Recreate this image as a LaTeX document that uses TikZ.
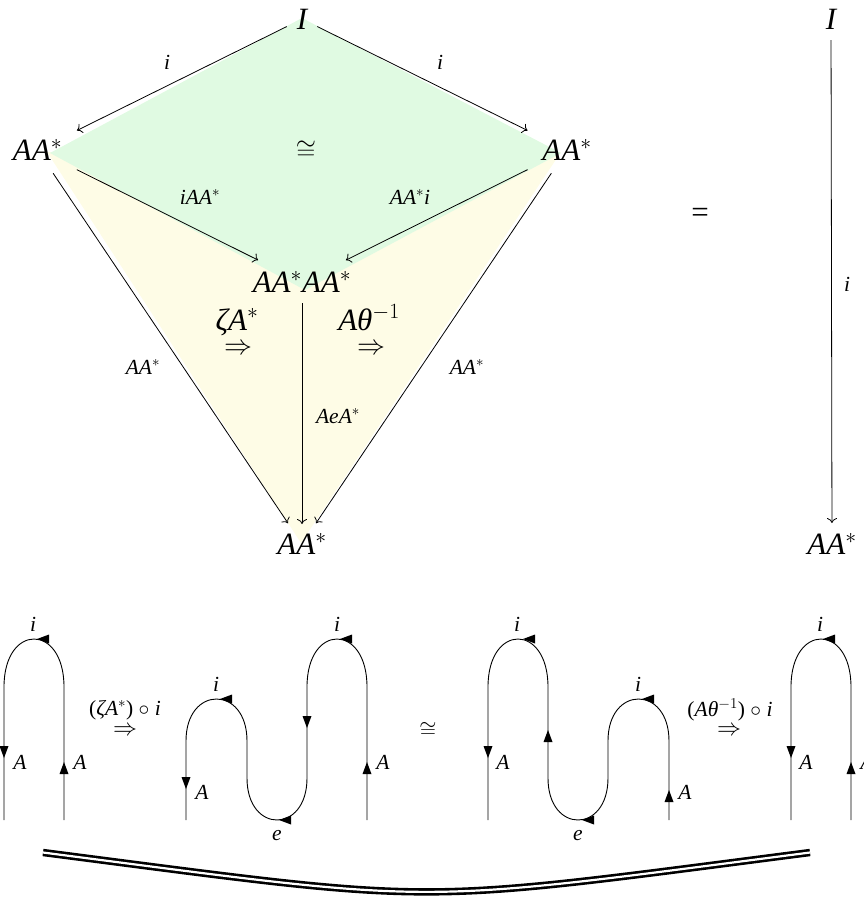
\RequirePackage{fix-cm}
\documentclass[tikz,border=0pt]{standalone}
\usepackage{fontspec}
\setmainfont{Liberation Serif}
\newfontfamily\tm{Liberation Serif}
\usetikzlibrary{arrows.meta}
\definecolor{gfill}{RGB}{224,250,226}
\definecolor{yfill}{RGB}{254,252,230}
\tikzset{
  big/.style={font=\fontsize{31}{36}\selectfont\tm\itshape, inner sep=0pt},
  lab/.style={font=\fontsize{21.5}{25}\selectfont\tm\itshape, inner sep=0pt},
  symb/.style={font=\fontsize{26}{30}\selectfont, inner sep=0pt},
  dbl/.style={font=\fontsize{28}{32}\selectfont, inner sep=0pt},
  dbls/.style={font=\fontsize{24}{28}\selectfont, inner sep=0pt},
  cd/.style={line width=0.8pt, -{Computer Modern Rightarrow[length=5pt,width=10pt]}},
  strand/.style={line width=0.9pt},
  eqs/.style={double, double distance=2.2pt, line width=2.6pt},
}
\newcommand\arrD[2]{\fill (#1,#2) -- ++(-4.5,-12) -- ++(9,0) -- cycle;}
\newcommand\arrU[2]{\fill (#1,#2) -- ++(-4.5,12) -- ++(9,0) -- cycle;}
\newcommand\arrL[2]{\fill (#1,#2) -- ++(12,-4.5) -- ++(0,9) -- cycle;}
\begin{document}
\begin{tikzpicture}[x=1pt,y=-1pt]
\useasboundingbox (0,0) rectangle (864,898);
% fills
\fill[yfill] (47,152) -- (301,543) -- (561,152) -- cycle;
\fill[gfill] (302,18) -- (50,153) -- (305,290) -- (561,153) -- cycle;
% objects
\node[big] (I) at (302,19) {I};
\node[big] (L) at (37.5,150) {AA$^*$};
\node[big] (R) at (567,150) {AA$^*$};
\node[big] (M) at (302,282) {AA$^*$AA$^*$};
\node[big] (B) at (302,544) {AA$^*$};
\node[big] (I2) at (831,19) {I};
\node[big] (B2) at (832,544) {AA$^*$};
% morphisms
\draw[cd, shorten <=17pt, shorten >=44pt] (I.center) -- (L.center);
\draw[cd, shorten <=17pt, shorten >=44pt] (I.center) -- (R.center);
\draw[cd, shorten <=44pt, shorten >=49pt] (L.center) -- (M.center);
\draw[cd, shorten <=44pt, shorten >=49pt] (R.center) -- (M.center);
\draw[cd, shorten <=28pt, shorten >=25pt] (L.center) -- (B.center);
\draw[cd, shorten <=28pt, shorten >=25pt] (R.center) -- (B.center);
\draw[cd, shorten <=21pt, shorten >=20pt] (M.center) -- (B.center);
\draw[cd, shorten <=21pt, shorten >=21pt] (I2.center) -- (B2.center);
% edge labels
\node[lab] (li1) at (167,62) {i};
\node[lab] (li2) at (440,62) {i};
\node[lab] (liA) at (200,197) {iAA$^*$};
\node[lab] (lAi) at (410,197) {AA$^*$i};
\node[lab] (lL) at (143,367) {AA$^*$};
\node[lab] (lR) at (467,367) {AA$^*$};
\node[lab] (lAe) at (338,416) {AeA$^*$};
\node[lab] (li3) at (847,284) {i};
\node[symb] (iso1) at (306,150) {$\cong$};
\node[big, anchor=base] (z) at (237,330) {ζA$^*$};
\node[dbl] (z2) at (238,349) {$\Rightarrow$};
\node[big, anchor=base] (t) at (369,330) {Aθ$^{-1}$};
\node[dbl] (t2) at (371,349) {$\Rightarrow$};
\node[big] (eq) at (700,215) {\upshape =};
% string diagram 1
\draw[strand] (64,820) -- (64,687) .. controls (64,623) and (4,623) .. (4,687) -- (4,820);
\arrU{64}{762} \arrL{37}{639} \arrD{4}{758}
\node[lab] (d1i) at (33,624) {i};
\node[lab] (d1a) at (20,762) {A};
\node[lab] (d1b) at (80,762) {A};
\node[lab] (s1) at (125,710) {{\upshape(}ζA$^*${\upshape)} $\circ$ i};
\node[dbls] (s1b) at (125,731) {$\Rightarrow$};
% string diagram 2
\draw[strand] (367,820) -- (367,687) .. controls (367,623) and (307,623) .. (307,687) -- (307,778) .. controls (307,834) and (247,834) .. (247,778) -- (247,741) .. controls (247,685) and (186,685) .. (186,741) -- (186,820);
\arrU{367}{762} \arrL{340}{639} \arrD{307}{728} \arrL{279}{820} \arrL{220}{699} \arrD{186}{789}
\node[lab] (d2i1) at (337,624) {i};
\node[lab] (d2a1) at (383,762) {A};
\node[lab] (d2e) at (277,836) {e};
\node[lab] (d2i2) at (216,684) {i};
\node[lab] (d2a2) at (202,792) {A};
\node[symb, font=\fontsize{22}{26}\selectfont] (iso2) at (428,730) {$\cong$};
% string diagram 3
\draw[strand] (669,820) -- (669,741) .. controls (669,685) and (608,685) .. (608,741) -- (608,778) .. controls (608,834) and (548,834) .. (548,778) -- (548,687) .. controls (548,623) and (488,623) .. (488,687) -- (488,820);
\arrU{669}{790} \arrL{642}{699} \arrL{582}{820} \arrU{548}{730} \arrL{523}{639} \arrD{488}{758}
\node[lab] (d3a1) at (685,792) {A};
\node[lab] (d3i1) at (638,684) {i};
\node[lab] (d3e) at (578,836) {e};
\node[lab] (d3i2) at (517,624) {i};
\node[lab] (d3a2) at (503,762) {A};
\node[lab] (s2) at (730,710) {{\upshape(}Aθ$^{-1}${\upshape)} $\circ$ i};
\node[dbls] (s2b) at (729,731) {$\Rightarrow$};
% string diagram 4
\draw[strand] (851,820) -- (851,687) .. controls (851,623) and (791,623) .. (791,687) -- (791,820);
\arrU{851}{762} \arrL{823}{639} \arrD{791}{758}
\node[lab] (d4i) at (820,624) {i};
\node[lab] (d4a) at (806,762) {A};
\node[lab] (d4b) at (867,762) {A};
% equality
\draw[eqs] (43,852.5) .. controls (450,905) and (403,905) .. (810,852.5);
\end{tikzpicture}
\end{document}
